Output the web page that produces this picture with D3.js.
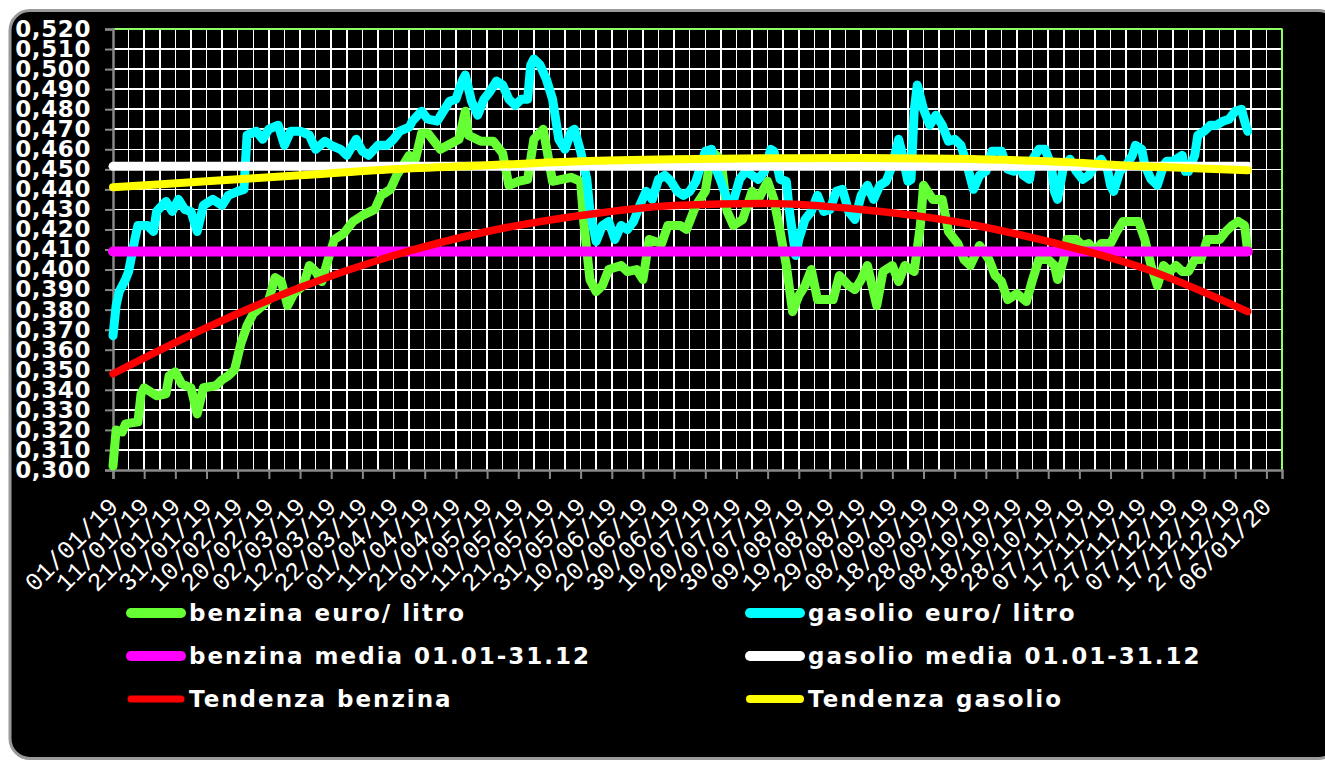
<!DOCTYPE html>
<html>
<head>
<meta charset="utf-8">
<script src="https://cdn.jsdelivr.net/npm/d3@7"></script>
<style>
  body { margin: 0; background: #fff; }
  svg { display: block; }
</style>
</head>
<body>
<div id="chart"></div>
<script>
// etichette asse x (una ogni 10 giorni)
var etichetteX = ["01/01/19","11/01/19","21/01/19","31/01/19","10/02/19","20/02/19","02/03/19",
  "12/03/19","22/03/19","01/04/19","11/04/19","21/04/19","01/05/19","11/05/19","21/05/19",
  "31/05/19","10/06/19","20/06/19","30/06/19","10/07/19","20/07/19","30/07/19","09/08/19",
  "19/08/19","29/08/19","08/09/19","18/09/19","28/09/19","08/10/19","18/10/19","28/10/19",
  "07/11/19","17/11/19","27/11/19","07/12/19","17/12/19","27/12/19","06/01/20"];

// giorni dal 01/01/19 e prezzi
var benzinaGiorni = [0,1,3,4,8,9,10,14,17,18,20,22,25,27,29,33,35,37,39,41,43,45,48,50,52,54,56,58,61,63,65,67,69,71,74,77,80,84,86,89,91,93,95,
  97,99,101,105,111,113,114,118,122,125,127,130,133,135,138,141,144,147,150,151,153,155,157,159,163,165,168,170,172,176,178,182,184,187,
  190,192,195,197,199,202,205,207,210,212,214,216,218,220,222,224,226,231,233,236,238,240,242,245,247,250,252,254,257,259,260,263,266,268,271,273,275,278,281,
  283,285,287,290,293,295,297,300,302,303,305,306,309,311,313,315,317,320,322,324,327,329,331,333,335,337,339,341,343,345,347,349,351,353,355,357,359,361,363,364];
var benzinaValori = [0.302,0.320,0.319,0.323,0.324,0.338,0.341,0.337,0.338,0.347,0.349,0.343,0.341,0.328,0.341,0.342,0.345,0.347,0.350,0.363,0.372,0.378,0.382,0.385,0.396,0.394,0.382,0.388,0.392,0.402,0.399,0.394,0.405,0.415,0.418,0.424,0.427,0.430,0.437,0.440,0.447,0.452,0.457,
  0.455,0.468,0.468,0.460,0.465,0.479,0.467,0.464,0.464,0.458,0.442,0.444,0.445,0.465,0.470,0.444,0.445,0.446,0.444,0.424,0.395,0.389,0.392,0.400,0.402,0.399,0.400,0.395,0.415,0.413,0.422,0.422,0.420,0.432,
  0.439,0.459,0.455,0.429,0.422,0.425,0.439,0.435,0.444,0.435,0.419,0.402,0.379,0.387,0.392,0.400,0.385,0.385,0.397,0.392,0.390,0.395,0.402,0.382,0.399,0.402,0.394,0.402,0.399,0.422,0.442,0.435,0.435,0.419,0.413,0.405,0.402,0.412,0.405,
  0.397,0.394,0.385,0.388,0.384,0.395,0.405,0.405,0.402,0.395,0.405,0.415,0.415,0.412,0.413,0.409,0.413,0.413,0.419,0.424,0.424,0.424,0.415,0.402,0.392,0.402,0.399,0.402,0.399,0.399,0.405,0.405,0.415,0.415,0.415,0.419,0.422,0.424,0.422,0.409];

var gasolioGiorni = [0,1,2,4,5,7,8,11,13,14,17,19,21,23,25,27,29,32,35,37,40,42,43,46,48,50,53,55,57,60,63,65,68,70,73,75,78,80,82,85,88,90,92,95,
  96,99,101,104,106,108,110,112,113,115,117,119,121,123,125,127,129,131,133,134,135,137,139,141,143,145,147,148,150,152,153,155,157,159,161,163,165,167,169,171,173,175,177,179,181,183,185,187,
  190,192,193,195,197,199,201,203,205,207,209,211,212,214,216,217,219,220,222,224,226,228,230,232,234,236,238,240,242,244,246,248,250,252,253,255,256,257,258,260,262,264,266,268,270,272,274,276,278,280,282,
  285,287,289,291,292,294,295,297,299,301,302,303,305,307,309,311,313,315,317,319,320,321,323,325,327,328,330,331,333,335,337,338,340,341,343,344,345,347,348,350,352,354,356,358,360,362,363,364];
var gasolioValori = [0.367,0.382,0.389,0.395,0.399,0.415,0.422,0.422,0.419,0.429,0.434,0.429,0.435,0.430,0.429,0.419,0.432,0.435,0.432,0.437,0.439,0.440,0.467,0.469,0.465,0.470,0.472,0.462,0.469,0.469,0.467,0.460,0.464,0.462,0.460,0.457,0.465,0.459,0.457,0.462,0.462,0.465,0.469,0.471,
  0.474,0.479,0.475,0.474,0.479,0.484,0.485,0.494,0.497,0.484,0.477,0.485,0.489,0.494,0.492,0.485,0.482,0.485,0.485,0.502,0.505,0.502,0.495,0.485,0.465,0.460,0.469,0.470,0.459,0.445,0.429,0.414,0.422,0.424,0.415,0.422,0.420,0.424,0.432,0.439,0.435,0.445,0.447,0.444,0.439,0.437,0.439,0.444,
  0.459,0.460,0.452,0.444,0.435,0.434,0.445,0.449,0.447,0.445,0.449,0.460,0.459,0.445,0.444,0.429,0.407,0.415,0.425,0.429,0.437,0.429,0.430,0.439,0.440,0.429,0.425,0.437,0.442,0.435,0.442,0.444,0.452,0.465,0.459,0.444,0.445,0.479,0.492,0.480,0.472,0.477,0.472,0.464,0.465,0.462,0.452,0.440,0.447,0.449,0.459,
  0.459,0.450,0.449,0.452,0.447,0.445,0.455,0.460,0.460,0.452,0.439,0.435,0.452,0.455,0.449,0.445,0.447,0.452,0.455,0.450,0.442,0.439,0.449,0.452,0.457,0.462,0.460,0.452,0.445,0.442,0.452,0.454,0.454,0.455,0.457,0.449,0.449,0.457,0.467,0.469,0.472,0.472,0.474,0.475,0.479,0.480,0.474,0.469];

// medie annuali
var mediaBenzina = 0.409;
var mediaGasolio = 0.4515;

// linee di tendenza
var tendenzaGiorni = [0,30,60,90,120,150,180,210,240,270,300,330,364];
var tendenzaBenzina = [0.348,0.371,0.391,0.407,0.419,0.427,0.432,0.433,0.430,0.424,0.414,0.401,0.379];
var tendenzaGasolio = [0.441,0.444,0.447,0.450,0.452,0.454,0.455,0.4555,0.4557,0.4553,0.454,0.4515,0.4495];

var legenda = [
  {nome: "benzina euro/ litro", colore: "#66FF33", w: 10},
  {nome: "gasolio euro/ litro", colore: "#00FFFF", w: 10},
  {nome: "benzina media 01.01-31.12", colore: "#FF00FF", w: 10},
  {nome: "gasolio media 01.01-31.12", colore: "#FFFFFF", w: 10},
  {nome: "Tendenza benzina", colore: "#FF0000", w: 7},
  {nome: "Tendenza gasolio", colore: "#FFFF00", w: 8}
];

var svgWidth = 1325, svgHeight = 762;
var plot = {left: 113, top: 29, right: 1282, bottom: 470};

var parseData = d3.timeParse("%d/%m/%y");
var inizio = parseData("01/01/19");
var giorno = function(g) { return d3.timeDay.offset(inizio, g); };

var svg = d3.select("#chart").append("svg")
  .attr("width", svgWidth)
  .attr("height", svgHeight);

svg.append("rect").attr("width", svgWidth).attr("height", svgHeight).attr("fill", "#fff");
// cornice nera arrotondata
svg.append("rect")
  .attr("x", 10).attr("y", 10.5)
  .attr("width", 1328).attr("height", 748)
  .attr("rx", 20)
  .attr("fill", "#000")
  .attr("stroke", "#9a9a9a")
  .attr("stroke-width", 3);

var xScale = d3.scaleTime()
  .domain([inizio, d3.timeDay.offset(parseData("06/01/20"), 5)])
  .range([plot.left, plot.right]);

var yScale = d3.scaleLinear()
  .domain([0.30, 0.52])
  .range([plot.bottom, plot.top]);

var yTicks = d3.range(30, 53).map(function(v) { return v / 100; });
var itLocale = d3.formatLocale({decimal: ",", thousands: ".", grouping: [3], currency: ["€", ""]});
var fmtY = itLocale.format(".3f");

// griglia
var grid = svg.append("g").attr("shape-rendering", "crispEdges");
grid.selectAll(".gy").data(yTicks.slice(1)).enter().append("line")
  .attr("x1", plot.left).attr("x2", plot.right)
  .attr("y1", function(d) { return yScale(d); })
  .attr("y2", function(d) { return yScale(d); })
  .attr("stroke", "#fff").attr("stroke-width", 1.5);

var giorniGriglia = d3.range(5, 376, 5);
grid.selectAll(".gx").data(giorniGriglia).enter().append("line")
  .attr("x1", function(d) { return xScale(giorno(d)); })
  .attr("x2", function(d) { return xScale(giorno(d)); })
  .attr("y1", plot.top).attr("y2", plot.bottom)
  .attr("stroke", "#fff").attr("stroke-width", 1.5);

// bordo superiore e destro verdi
svg.append("path")
  .attr("d", "M" + plot.left + "," + plot.top + "H" + plot.right + "V" + plot.bottom)
  .attr("fill", "none").attr("stroke", "#66FF33").attr("stroke-width", 1.5);

// assi
var xAxis = d3.axisBottom(xScale)
  .tickValues(etichetteX.map(parseData))
  .tickFormat(d3.timeFormat("%d/%m/%y"))
  .tickSize(9);

var gx = svg.append("g")
  .attr("transform", "translate(0," + plot.bottom + ")")
  .call(xAxis);
gx.select(".domain").attr("stroke", "#888").attr("stroke-width", 2.5);
gx.selectAll(".tick line").attr("stroke", "#888").attr("stroke-width", 2);
gx.selectAll("text")
  .attr("x", 0).attr("y", 0).attr("dy", 0)
  .attr("text-anchor", "end")
  .attr("transform", "translate(6,38) rotate(-45)")
  .attr("fill", "#fff")
  .style("font-family", "'Liberation Mono', monospace")
  .style("font-size", "25px");

var yAxis = d3.axisLeft(yScale)
  .tickValues(yTicks)
  .tickFormat(fmtY)
  .tickSize(8)
  .tickPadding(14);

var gy = svg.append("g")
  .attr("transform", "translate(" + plot.left + ",0)")
  .call(yAxis);
gy.select(".domain").attr("stroke", "#888").attr("stroke-width", 2.5);
gy.selectAll(".tick line").attr("stroke", "#888").attr("stroke-width", 2);
gy.selectAll("text")
  .attr("fill", "#fff")
  .style("font-family", "'DejaVu Sans', sans-serif")
  .style("font-weight", "bold")
  .style("font-size", "23px")
  .style("letter-spacing", "0.6px");

// linee
var line = d3.line()
  .x(function(d) { return xScale(giorno(d[0])); })
  .y(function(d) { return yScale(d[1]); });
var smooth = d3.line()
  .curve(d3.curveMonotoneX)
  .x(function(d) { return xScale(giorno(d[0])); })
  .y(function(d) { return yScale(d[1]); });

function disegna(gen, punti, colore, spessore) {
  svg.append("path")
    .attr("d", gen(punti))
    .attr("fill", "none")
    .attr("stroke", colore)
    .attr("stroke-width", spessore)
    .attr("stroke-linejoin", "round")
    .attr("stroke-linecap", "round");
}

disegna(line, d3.zip(benzinaGiorni, benzinaValori), "#66FF33", 9);
disegna(line, d3.zip(gasolioGiorni, gasolioValori), "#00FFFF", 9);
disegna(line, [[0, mediaBenzina], [364, mediaBenzina]], "#FF00FF", 10);
disegna(line, [[0, mediaGasolio], [364, mediaGasolio]], "#FFFFFF", 9);
disegna(smooth, d3.zip(tendenzaGiorni, tendenzaBenzina), "#FF0000", 7.5);
disegna(smooth, d3.zip(tendenzaGiorni, tendenzaGasolio), "#FFFF00", 8);

// legenda
var leg = svg.append("g");
var voci = leg.selectAll("g").data(legenda).enter().append("g")
  .attr("transform", function(d, i) {
    var col = i % 2, row = Math.floor(i / 2);
    return "translate(" + (col === 0 ? 126 : 745) + "," + (613 + row * 43) + ")";
  });
voci.append("line")
  .attr("x1", 5).attr("x2", 55)
  .attr("stroke", function(d) { return d.colore; })
  .attr("stroke-width", function(d) { return d.w; })
  .attr("stroke-linecap", "round");
voci.append("text")
  .attr("x", 63).attr("y", 8)
  .attr("fill", "#fff")
  .style("font-family", "'DejaVu Sans', sans-serif")
  .style("font-weight", "bold")
  .style("font-size", "23px")
  .style("letter-spacing", "2px")
  .text(function(d) { return d.nome; });
</script>
</body>
</html>
